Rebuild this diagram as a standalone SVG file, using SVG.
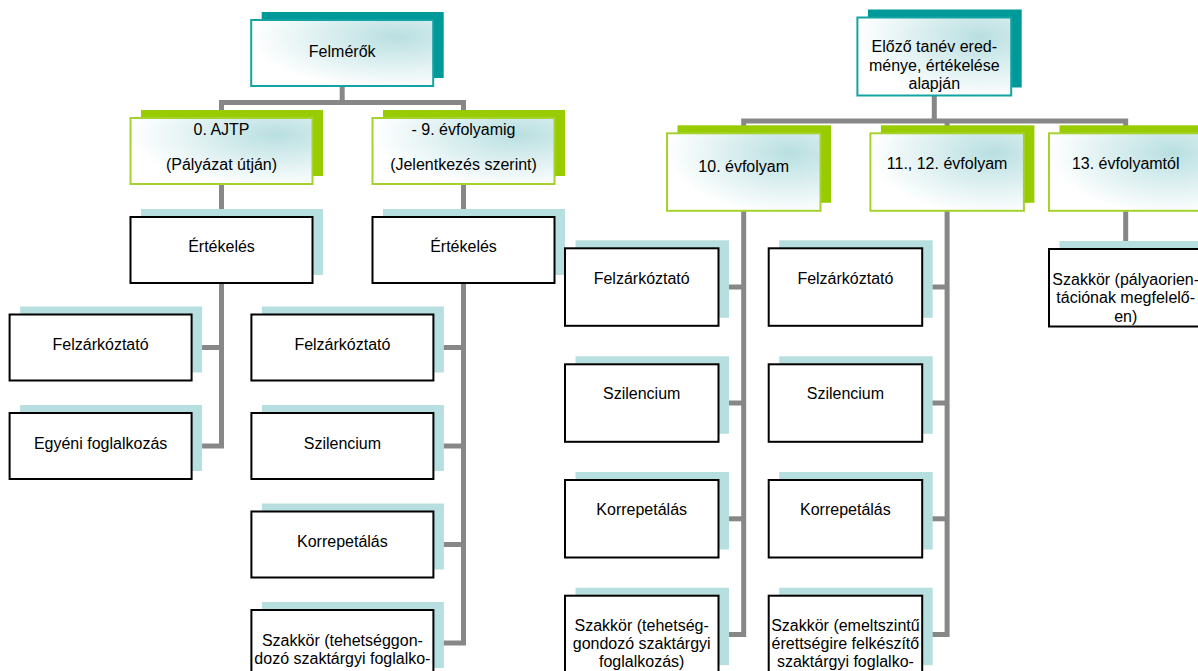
<svg xmlns="http://www.w3.org/2000/svg" width="1198" height="671" viewBox="0 0 1198 671">
<defs>
<radialGradient id="g" cx="0.8" cy="0.25" r="0.8">
<stop offset="0" stop-color="#b9dfe1"/>
<stop offset="1" stop-color="#ffffff"/>
</radialGradient>
</defs>
<style>
.c{fill:none;stroke:#878787;stroke-width:5}
.st{fill:#009999}
.sg{fill:#99cc00}
.sb{fill:#b8dfe0}
.bt{fill:url(#g);stroke:#14a3a3;stroke-width:2}
.bg{fill:url(#g);stroke:#a6d22e;stroke-width:2}
.bp{fill:#ffffff;stroke:#000000;stroke-width:2}
text{font-family:"Liberation Sans",Arial,sans-serif;font-size:16px;fill:#000;text-anchor:middle}
</style>
<rect width="1198" height="671" fill="#ffffff"/>
<g id="connectors">
<path class="c" d="M342.2 86 V102.5"/>
<path class="c" d="M221.5 118 V102.5 H463.5 V118"/>
<path class="c" d="M221.5 184 V217"/>
<path class="c" d="M463.5 184 V217"/>
<path class="c" d="M221.5 283 V446 H191"/>
<path class="c" d="M191 347.5 H221.5"/>
<path class="c" d="M463.5 283 V643 H433"/>
<path class="c" d="M433 347.5 H463.5"/>
<path class="c" d="M433 446 H463.5"/>
<path class="c" d="M433 544.5 H463.5"/>
<path class="c" d="M934.3 95 V121"/>
<path class="c" d="M743.7 133 V121 H1125.7 V133"/>
<path class="c" d="M947.1 121 V133"/>
<path class="c" d="M1125.7 210 V249"/>
<path class="c" d="M743.7 210 V634.5 H718"/>
<path class="c" d="M718 287 H743.7"/>
<path class="c" d="M718 403 H743.7"/>
<path class="c" d="M718 518.8 H743.7"/>
<path class="c" d="M947.1 210 V634.5 H922"/>
<path class="c" d="M922 287 H947.1"/>
<path class="c" d="M922 403 H947.1"/>
<path class="c" d="M922 518.8 H947.1"/>
</g>
<g id="n-felmerok"><rect class="st" x="261.7" y="12" width="182" height="66"/><rect class="bt" x="251.2" y="20" width="182" height="66"/><text x="342.2" y="57">Felmérők</text></g>
<g id="n-ajtp"><rect class="sg" x="141" y="110" width="182" height="66"/><rect class="bg" x="130.5" y="118" width="182" height="66"/><text x="221.5" y="135">0. AJTP</text><text x="221.5" y="170">(Pályázat útján)</text></g>
<g id="n-9evf"><rect class="sg" x="383" y="110" width="182" height="66"/><rect class="bg" x="372.5" y="118" width="182" height="66"/><text x="463.5" y="135">- 9. évfolyamig</text><text x="463.5" y="170">(Jelentkezés szerint)</text></g>
<g id="n-ert-l"><rect class="sb" x="141" y="209" width="182" height="66"/><rect class="bp" x="130.5" y="217" width="182" height="66"/><text x="221.5" y="252">Értékelés</text></g>
<g id="n-ert-r"><rect class="sb" x="383" y="209" width="182" height="66"/><rect class="bp" x="372.5" y="217" width="182" height="66"/><text x="463.5" y="252">Értékelés</text></g>
<g id="n-felz-l"><rect class="sb" x="20.1" y="306.5" width="182" height="66"/><rect class="bp" x="9.6" y="314.5" width="182" height="66"/><text x="100.6" y="350">Felzárkóztató</text></g>
<g id="n-egyeni"><rect class="sb" x="20.1" y="405" width="182" height="66"/><rect class="bp" x="9.6" y="413" width="182" height="66"/><text x="100.6" y="448.5">Egyéni foglalkozás</text></g>
<g id="n-felz-9"><rect class="sb" x="261.9" y="306.5" width="182" height="66"/><rect class="bp" x="251.4" y="314.5" width="182" height="66"/><text x="342.4" y="350">Felzárkóztató</text></g>
<g id="n-szil-9"><rect class="sb" x="261.9" y="405" width="182" height="66"/><rect class="bp" x="251.4" y="413" width="182" height="66"/><text x="342.4" y="448.5">Szilencium</text></g>
<g id="n-korr-9"><rect class="sb" x="261.9" y="503.5" width="182" height="66"/><rect class="bp" x="251.4" y="511.5" width="182" height="66"/><text x="342.4" y="547">Korrepetálás</text></g>
<g id="n-szak-9"><rect class="sb" x="261.9" y="602" width="182" height="66"/><rect class="bp" x="251.4" y="610" width="182" height="66"/><text x="342.4" y="645.5">Szakkör (tehetséggon-</text><text x="342.4" y="664">dozó szaktárgyi foglalko-</text><text x="342.4" y="682.5">zás)</text></g>
<g id="n-elozo"><rect class="st" x="867.9" y="9.5" width="153.8" height="78"/><rect class="bt" x="857.4" y="17.5" width="153.8" height="78"/><text x="934.3" y="52">Előző tanév ered-</text><text x="934.3" y="70.5">ménye, értékelése</text><text x="934.3" y="89">alapján</text></g>
<g id="n-10evf"><rect class="sg" x="677.5" y="125.3" width="153.5" height="77.5"/><rect class="bg" x="667" y="133.3" width="153.5" height="77.5"/><text x="743.7" y="172">10. évfolyam</text></g>
<g id="n-1112evf"><rect class="sg" x="880.9" y="125.3" width="153.5" height="77.5"/><rect class="bg" x="870.4" y="133.3" width="153.5" height="77.5"/><text x="947.1" y="169">11., 12. évfolyam</text></g>
<g id="n-13evf"><rect class="sg" x="1059.5" y="125.3" width="153.5" height="77.5"/><rect class="bg" x="1049" y="133.3" width="153.5" height="77.5"/><text x="1125.7" y="168.5">13. évfolyamtól</text></g>
<g id="n-felz-10"><rect class="sb" x="575.5" y="240.3" width="153.5" height="77.5"/><rect class="bp" x="565" y="248.3" width="153.5" height="77.5"/><text x="641.7" y="283.5">Felzárkóztató</text></g>
<g id="n-szil-10"><rect class="sb" x="575.5" y="356.3" width="153.5" height="77.5"/><rect class="bp" x="565" y="364.3" width="153.5" height="77.5"/><text x="641.7" y="399.3">Szilencium</text></g>
<g id="n-korr-10"><rect class="sb" x="575.5" y="472" width="153.5" height="77.5"/><rect class="bp" x="565" y="480" width="153.5" height="77.5"/><text x="641.7" y="515">Korrepetálás</text></g>
<g id="n-szak-10"><rect class="sb" x="575.5" y="587.7" width="153.5" height="77.5"/><rect class="bp" x="565" y="595.7" width="153.5" height="77.5"/><text x="641.7" y="630.5">Szakkör (tehetség-</text><text x="641.7" y="648.8">gondozó szaktárgyi</text><text x="641.7" y="667">foglalkozás)</text></g>
<g id="n-felz-11"><rect class="sb" x="779.2" y="240.3" width="153.5" height="77.5"/><rect class="bp" x="768.7" y="248.3" width="153.5" height="77.5"/><text x="845.4" y="283.5">Felzárkóztató</text></g>
<g id="n-szil-11"><rect class="sb" x="779.2" y="356.3" width="153.5" height="77.5"/><rect class="bp" x="768.7" y="364.3" width="153.5" height="77.5"/><text x="845.4" y="399.3">Szilencium</text></g>
<g id="n-korr-11"><rect class="sb" x="779.2" y="472" width="153.5" height="77.5"/><rect class="bp" x="768.7" y="480" width="153.5" height="77.5"/><text x="845.4" y="515">Korrepetálás</text></g>
<g id="n-szak-11"><rect class="sb" x="779.2" y="587.7" width="153.5" height="77.5"/><rect class="bp" x="768.7" y="595.7" width="153.5" height="77.5"/><text x="845.4" y="630.5">Szakkör (emeltszintű</text><text x="845.4" y="648.8">érettségire felkészítő</text><text x="845.4" y="667">szaktárgyi foglalko-</text></g>
<g id="n-szak-13"><rect class="sb" x="1059.5" y="241" width="153.5" height="77.5"/><rect class="bp" x="1049" y="249" width="153.5" height="77.5"/><text x="1125.7" y="285">Szakkör (pályaorien-</text><text x="1125.7" y="303.3">tációnak megfelelő-</text><text x="1125.7" y="321.8">en)</text></g>
</svg>
